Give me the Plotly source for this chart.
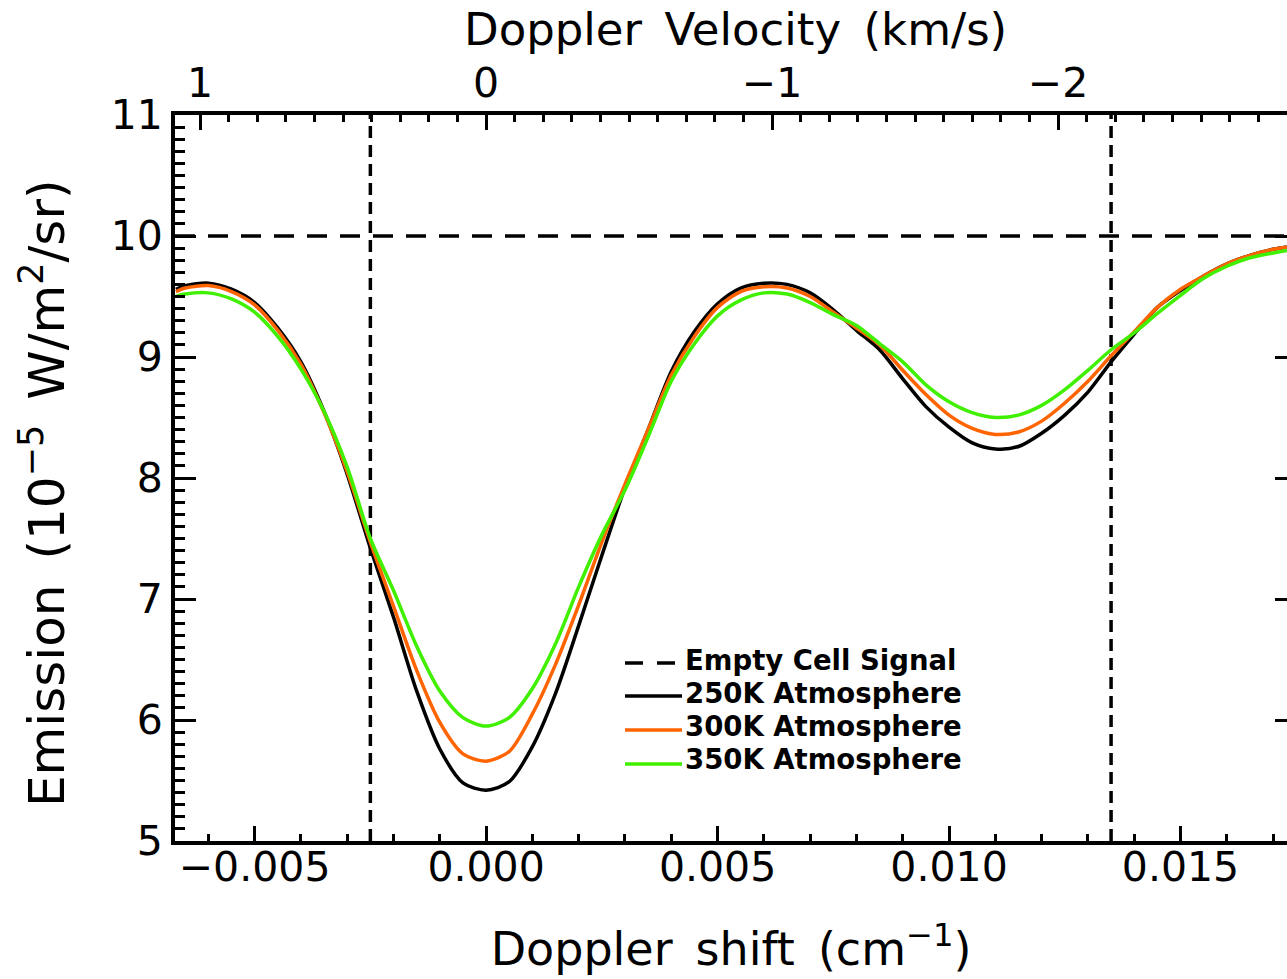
import plotly.graph_objects as go

# ---------------- data ----------------
shift_cm = [-0.0067, -0.0065, -0.0060, -0.0055, -0.0050, -0.0045, -0.0040, -0.0035,
            -0.0030, -0.0025, -0.0020, -0.0015, -0.0010, -0.0005, 0.0000, 0.0005,
            0.0010, 0.0015, 0.0020, 0.0025, 0.0030, 0.0035, 0.0040, 0.0045,
            0.0050, 0.0055, 0.0060, 0.0065, 0.0070, 0.0075, 0.0080, 0.0085,
            0.0090, 0.0095, 0.0100, 0.0105, 0.0110, 0.0115, 0.0120, 0.0125,
            0.0130, 0.0135, 0.0140, 0.0145, 0.0150, 0.0155, 0.0160, 0.0165,
            0.0170, 0.0173]

emission_250K = [9.56, 9.59, 9.61, 9.56, 9.45, 9.24, 8.96, 8.55,
                 8.03, 7.42, 6.85, 6.24, 5.76, 5.48, 5.42, 5.49,
                 5.78, 6.22, 6.78, 7.36, 7.92, 8.40, 8.88, 9.21,
                 9.44, 9.57, 9.61, 9.60, 9.53, 9.39, 9.22, 9.06,
                 8.82, 8.59, 8.42, 8.29, 8.24, 8.26, 8.37, 8.52,
                 8.71, 8.96, 9.19, 9.41, 9.55, 9.67, 9.77, 9.84,
                 9.89, 9.91]

emission_300K = [9.54, 9.57, 9.59, 9.54, 9.43, 9.22, 8.94, 8.54,
                 8.05, 7.47, 6.94, 6.41, 5.98, 5.72, 5.66, 5.74,
                 6.05, 6.46, 6.95, 7.47, 7.95, 8.40, 8.85, 9.17,
                 9.41, 9.54, 9.58, 9.57, 9.50, 9.37, 9.24, 9.10,
                 8.89, 8.69, 8.52, 8.41, 8.36, 8.38, 8.47, 8.62,
                 8.80, 9.01, 9.21, 9.41, 9.56, 9.67, 9.77, 9.84,
                 9.89, 9.91]

emission_350K = [9.50, 9.52, 9.53, 9.48, 9.37, 9.17, 8.90, 8.55,
                 8.09, 7.50, 7.07, 6.61, 6.24, 6.02, 5.95, 6.02,
                 6.26, 6.63, 7.10, 7.53, 7.90, 8.34, 8.80, 9.11,
                 9.34, 9.47, 9.53, 9.52, 9.45, 9.35, 9.26, 9.11,
                 8.96, 8.77, 8.63, 8.54, 8.50, 8.52, 8.60, 8.73,
                 8.89, 9.06, 9.20, 9.36, 9.51, 9.65, 9.75, 9.82,
                 9.86, 9.88]

empty_cell_signal = 10.0
window_edges = [-0.0025, 0.0135]          # vertical dotted lines (cm^-1)
x_range = [-0.00672, 0.0173]
y_range = [5, 11]
shift_per_kms = 0.006177                  # cm^-1 per km/s (top axis scale)
velocity_ticks = [1, 0, -1, -2]

legend_labels = ["Empty Cell Signal", "250K Atmosphere", "300K Atmosphere", "350K Atmosphere"]
series_names = legend_labels[1:]
series_colors = ["#000000", "#FF6400", "#40F000"]
legend_colors = ["#000000"] + series_colors
legend_dashes = ["18px,14px", "solid", "solid", "solid"]

x_title = "Doppler\u2002shift\u2002(cm<sup>\u22121</sup>)"
top_title = "Doppler\u2002Velocity\u2002(km/s)"
y_title = "Emission\u2002(10<sup>\u22125</sup>\u2002W/m<sup>2</sup>/sr)"

# ---------------- figure ----------------
W, H = 1287, 979
M_L, M_R, M_T, M_B = 175, 0, 115, 138
PW, PH = W - M_L - M_R, H - M_T - M_B

def px_x(p):   # pixel column -> paper x
    return (p - M_L) / PW

def px_y(p):   # pixel row -> paper y
    return (H - M_B - p) / PH

TICK_FONT = dict(family="DejaVu Sans", size=41, color="black")
TITLE_FONT = dict(family="DejaVu Sans", size=46, color="black")

fig = go.Figure()

for xe in window_edges:
    fig.add_shape(type="line", x0=xe, x1=xe, y0=0, y1=1, xref="x", yref="paper",
                  line=dict(color="black", width=3.5, dash="12px,7px"), layer="below")

fig.add_trace(go.Scatter(x=x_range, y=[empty_cell_signal, empty_cell_signal],
                         mode="lines", name=legend_labels[0], showlegend=False,
                         line=dict(color="black", width=3.5, dash="20px,13px")))

for name, color, vals in zip(series_names, series_colors,
                             [emission_250K, emission_300K, emission_350K]):
    fig.add_trace(go.Scatter(x=shift_cm, y=vals, mode="lines", name=name, showlegend=False,
                             line=dict(color=color, width=3.5, shape="spline", smoothing=0.8)))

# empty helper traces so the secondary (top / right) axes are drawn
fig.add_trace(go.Scatter(x=[], y=[], xaxis="x2", yaxis="y", showlegend=False, hoverinfo="skip"))
fig.add_trace(go.Scatter(x=[], y=[], xaxis="x", yaxis="y2", showlegend=False, hoverinfo="skip"))

# legend (drawn as text + sample lines, IDL style)
legend_line_rows = [663, 696, 730, 764]
legend_text_rows = [660, 693, 726, 759]
for i, (lab, col, dsh) in enumerate(zip(legend_labels, legend_colors, legend_dashes)):
    fig.add_shape(type="line", xref="paper", yref="paper",
                  x0=px_x(625), x1=px_x(682), y0=px_y(legend_line_rows[i]), y1=px_y(legend_line_rows[i]),
                  line=dict(color=col, width=3.5, dash=dsh))
    fig.add_annotation(text=lab, xref="paper", yref="paper", x=px_x(684), y=px_y(legend_text_rows[i]),
                       xanchor="left", yanchor="middle", showarrow=False, borderpad=0,
                       font=dict(family="DejaVu Sans", size=27.5, weight="bold", color="black"))

# top title and y title as annotations (exact placement)
fig.add_annotation(text=top_title, xref="paper", yref="paper", x=px_x(735), y=px_y(30),
                   xanchor="center", yanchor="middle", showarrow=False,
                   font=dict(family="DejaVu Sans", size=45, color="black"))
fig.add_annotation(text=y_title, xref="paper", yref="paper", x=px_x(43), y=px_y(494),
                   xanchor="center", yanchor="middle", showarrow=False, textangle=-90,
                   font=dict(family="DejaVu Sans", size=50, color="black"))

axis_common = dict(showgrid=False, zeroline=False, tickcolor="black", tickwidth=3,
                   ticks="inside", tickfont=TICK_FONT)

fig.update_layout(
    width=W, height=H,
    margin=dict(l=M_L, r=M_R, t=M_T, b=M_B, pad=0),
    paper_bgcolor="white", plot_bgcolor="white",
    font=dict(family="DejaVu Sans", color="black"),
    showlegend=False,
    xaxis=dict(range=x_range, showline=True, linewidth=4, linecolor="black",
               tick0=0, dtick=0.005, tickformat=".3f", ticklen=15, ticklabelstandoff=-13,
               minor=dict(dtick=0.001, ticks="inside", ticklen=7, tickwidth=3,
                          tickcolor="black", showgrid=False),
               title=dict(text=x_title, font=TITLE_FONT, standoff=44),
               **axis_common),
    xaxis2=dict(overlaying="x", side="top", anchor="y",
                range=[-x_range[0] / shift_per_kms, -x_range[1] / shift_per_kms],
                showline=True, linewidth=4, linecolor="black",
                tickmode="array", tickvals=velocity_ticks, ticklen=15, ticklabelstandoff=-2,
                minor=dict(dtick=0.1, tick0=0, ticks="inside", ticklen=7, tickwidth=3,
                           tickcolor="black", showgrid=False),
                **axis_common),
    yaxis=dict(range=y_range, showline=True, linewidth=4, linecolor="black",
               tick0=5, dtick=1, ticklen=21,
               minor=dict(dtick=0.1, ticks="inside", ticklen=10, tickwidth=3,
                          tickcolor="black", showgrid=False),
               **axis_common),
    yaxis2=dict(overlaying="y", side="right", anchor="x", range=y_range,
                showline=False, tick0=5, dtick=1, ticklen=12, showticklabels=False,
                showgrid=False, zeroline=False, ticks="inside", tickcolor="black", tickwidth=3),
)

fig.write_html("out.html", post_script="document.body.style.margin='0';",
               config={"displayModeBar": False})
